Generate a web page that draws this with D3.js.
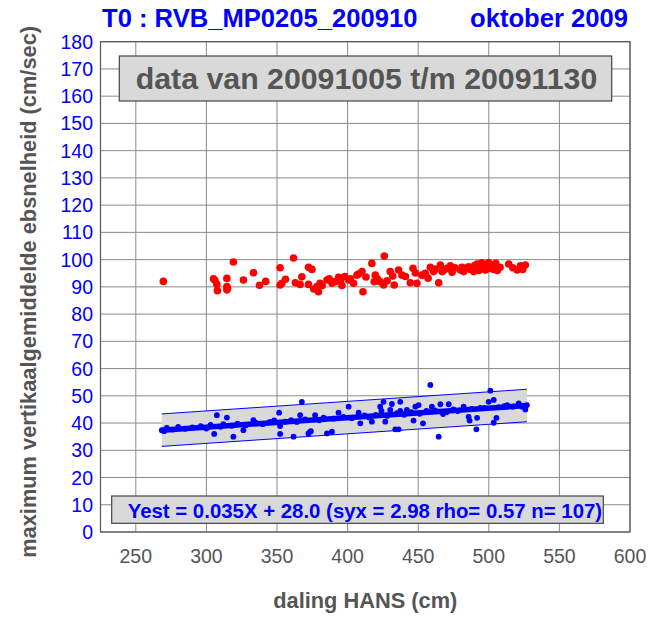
<!DOCTYPE html>
<html>
<head>
<meta charset="utf-8">
<script src="https://cdn.jsdelivr.net/npm/d3@7"></script>
<style>
  html, body { margin: 0; padding: 0; background: #fff; }
  svg { display: block; font-family: "Liberation Sans", Arial, sans-serif; }
</style>
</head>
<body>
<svg id="chart" width="650" height="618"></svg>
<script>
// Titles and labels
const titleLeft = "T0 : RVB_MP0205_200910";
const titleRight = "oktober 2009";
const periodLabel = "data van 20091005 t/m 20091130";
const xTitle = "daling HANS (cm)";
const yTitle = "maximum vertikaalgemiddelde ebsnelheid (cm/sec)";

// Axis ticks
const xTicks = [250, 300, 350, 400, 450, 500, 550, 600];
const yTicks = [0, 10, 20, 30, 40, 50, 60, 70, 80, 90, 100, 110, 120, 130, 140, 150, 160, 170, 180];

// Regression statistics
const slope = 0.035;
const intercept = 28.0;
const syx = 2.98;
const rho = 0.57;
const nObs = 107;

// Maximum velocity (red) : [daling, snelheid]
const redPoints = [
  [269.5,92.0],[305,93.0],[307.4,90.9],[307.8,88.6],[314.5,93.1],[314.5,90.1],[314.5,88.9],[319.1,99.1],
  [326.2,92.5],[333.3,95.2],[337.6,90.6],[352.2,97.0],[352.2,90.7],[353.4,91.3],[361.7,100.6],[367.6,93.7],
  [366.4,90.9],[372.3,97.2],[374.7,96.4],[372.3,90.9],[378.3,90.1],[379.4,88.2],[380.5,91.3],[385.4,92.5],
  [389,91.3],[391.3,91.9],[393.6,93.5],[400.7,92.5],[404.2,91.3],[406.6,94.3],[410.2,95.6],[410.9,88.2],
  [417.2,98.6],[419.6,94.3],[418.9,91.9],[423.1,91.9],[426,101.3],[425.5,90.7],[430.2,95.6],[433,90.7],
  [436.1,96.2],[438.5,94.3],[444.4,91.5],[446.3,96.8],[449.1,91.3],[448,95.1],[452.7,94.3],[458.6,97.2],
  [460.9,95.6],[464.5,91.5],[465.7,98.0],[466.9,95.6],[470.4,96.8],[472.8,97.7],[479.8,96.2],[482.2,95.6],
  [485.7,97.4],[489.3,95.6],[491.7,98.4],[494,97.4],[497.6,96.2],[499.9,98.9],[502.3,98.0],[503.5,96.4],
  [504.6,97.4],[514.1,98.4],[520,96.2],[522.4,97.7],[525.9,98.0],
  [306,92.4],[315,89.5],[342,92.0],[356,92.8],[363,91.5],[376,89.2],[382,90.5],[387,93.0],[395,92.2],
  [398,93.8],[402,93.0],[408,94.8],[413,93.6],[421,93.0],[428,92.2],[432,94.0],[441,93.8],[455,95.0],
  [457,93.2],[462,96.5],[468,96.0],[474,95.4],[476,97.0],[481,97.2],[484,96.8],[487,96.4],[490,97.8],
  [493,96.0],[495,98.8],[498,97.4],[500,96.8],[501,97.8],[505,98.6],[506,96.0],[508,97.2],[517,97.0],
  [524,96.4],[396,90.5]
];

// Vertically averaged velocity (blue) : [daling, snelheid]
const bluePoints = [
  [268.4,37.4],[307.4,42.9],[314.5,42.0],[305.5,36.0],[319.1,35.0],[326.2,37.4],[333.3,41.1],[351.5,43.8],
  [352.2,38.9],[352.2,36.0],[361.7,35.0],[366.4,42.9],[367.6,47.8],[372.3,36.2],[374,37.0],[377,42.9],
  [373.5,36.8],[385.4,36.2],[388.9,36.8],[393.6,43.8],[400.7,46.0],[407.8,43.8],[409,39.9],[417.2,40.5],
  [423.1,46.0],[424,44.5],[425.5,47.8],[426.7,40.5],[430.2,44.8],[431.4,47.0],[433.8,37.7],[436.1,37.7],
  [437.3,47.8],[437.3,44.5],[442,44.8],[446.7,40.9],[448,46.0],[450.3,46.6],[453.4,39.9],[455.8,44.5],
  [458.6,54.0],[459.7,46.0],[464.5,35.0],[465.7,46.9],[467.6,43.3],[471.6,46.9],[482.2,46.0],[485.7,42.3],
  [486.4,40.9],[491.2,37.7],[491.7,41.9],[494,45.6],[499.9,47.8],[501.1,51.9],[503.5,48.5],[503.5,40.1],
  [505.4,41.9],[513.1,46.6],[521.2,47.2],[523.5,46.0],[525.9,45.0],
  [270,37.0],[272,38.2],[276,37.6],[280,38.6],[285,37.9],[290,38.4],[296,38.9],[300,38.0],[303,39.3],
  [310,38.6],[312,39.6],[318,39.0],[322,39.8],[328,39.2],[335,40.1],[340,39.6],[345,40.4],[348,41.0],
  [356,40.5],[360,41.1],[364,40.4],[370,41.3],[380,41.0],[383,42.0],[390,41.6],[397,42.3],[403,41.8],
  [412,42.8],[415,42.1],[420,43.0],[428,42.6],[435,43.6],[440,43.0],[445,44.0],[451,43.4],[457,44.2],
  [462,44.6],[470,44.0],[475,45.0],[478,44.4],[488,45.2],[497,45.6],[507,45.8],[511,46.2],[517,46.0],
  [527,46.6]
];

const BLUE = "#0000ff";
const GREY_TEXT = "#555555";
const BOX_FILL = "#d9d9d9";
const FONT = "'Liberation Sans', Arial, sans-serif";

const svg = d3.select("#chart");
const plot = { left: 100.5, right: 630, top: 41.7, bottom: 532 };

const x = d3.scaleLinear().domain([225, 600]).range([plot.left, plot.right]);
const y = d3.scaleLinear().domain([0, 180]).range([plot.bottom, plot.top]);

// Grid
const grid = svg.append("g").attr("stroke", "#8a8a8a").attr("stroke-width", 1);
grid.selectAll("line.v").data(xTicks).join("line")
  .attr("x1", d => x(d)).attr("x2", d => x(d))
  .attr("y1", plot.top).attr("y2", plot.bottom);
grid.selectAll("line.h").data(yTicks).join("line")
  .attr("x1", plot.left).attr("x2", plot.right)
  .attr("y1", d => y(d)).attr("y2", d => y(d));

// Confidence band (regression ± 2·syx) over the observed range
const xs = bluePoints.map(d => d[0]);
const xMin = d3.min(xs), xMax = d3.max(xs);
const fit = v => slope * v + intercept;
const bandData = [xMin, xMax];

svg.append("path")
  .datum(bandData)
  .attr("fill", BOX_FILL)
  .attr("d", d3.area().x(d => x(d)).y0(d => y(fit(d) - 2 * syx)).y1(d => y(fit(d) + 2 * syx)));

const lineGen = d3.line().x(d => x(d[0])).y(d => y(d[1]));
[2 * syx, -2 * syx].forEach(off => {
  svg.append("path")
    .datum(bandData.map(v => [v, fit(v) + off]))
    .attr("fill", "none").attr("stroke", BLUE).attr("stroke-width", 1)
    .attr("d", lineGen);
});

// Regression line
svg.append("path")
  .datum(bandData.map(v => [v, fit(v)]))
  .attr("fill", "none").attr("stroke", BLUE).attr("stroke-width", 5.5)
  .attr("d", lineGen);

// Points
svg.append("g").selectAll("circle").data(redPoints).join("circle")
  .attr("cx", d => x(d[0])).attr("cy", d => y(d[1])).attr("r", 3.8)
  .attr("fill", "#ff0000");
svg.append("g").selectAll("circle").data(bluePoints).join("circle")
  .attr("cx", d => x(d[0])).attr("cy", d => y(d[1])).attr("r", 2.9)
  .attr("fill", BLUE);

// Plot frame
svg.append("rect")
  .attr("x", plot.left).attr("y", plot.top)
  .attr("width", plot.right - plot.left).attr("height", plot.bottom - plot.top)
  .attr("fill", "none").attr("stroke", "#555").attr("stroke-width", 1.2);

// Tick labels
svg.append("g").selectAll("text").data(yTicks).join("text")
  .attr("x", 93).attr("y", d => y(d)).attr("dy", "0.36em")
  .attr("text-anchor", "end").attr("fill", BLUE)
  .style("font-size", "19.5px").style("font-family", FONT)
  .text(d => d);
svg.append("g").selectAll("text").data(xTicks).join("text")
  .attr("x", d => x(d)).attr("y", 563)
  .attr("text-anchor", "middle").attr("fill", GREY_TEXT)
  .style("font-size", "19.5px").style("font-family", FONT)
  .text(d => d);

// Axis titles
svg.append("text")
  .attr("x", (plot.left + plot.right) / 2).attr("y", 608)
  .attr("text-anchor", "middle").attr("fill", GREY_TEXT)
  .style("font-size", "21.8px").style("font-weight", "bold").style("font-family", FONT)
  .text(xTitle);
svg.append("text")
  .attr("transform", `translate(36,${(plot.top + plot.bottom) / 2 + 5}) rotate(-90)`)
  .attr("text-anchor", "middle").attr("fill", GREY_TEXT)
  .style("font-size", "21.8px").style("font-weight", "bold").style("font-family", FONT)
  .text(yTitle);

// Header
svg.append("text")
  .attr("x", 102).attr("y", 27).attr("fill", BLUE)
  .style("font-size", "25.6px").style("font-weight", "bold").style("font-family", FONT)
  .text(titleLeft);
svg.append("text")
  .attr("x", 628).attr("y", 27).attr("text-anchor", "end").attr("fill", BLUE)
  .style("font-size", "25.6px").style("font-weight", "bold").style("font-family", FONT)
  .text(titleRight);

// Period box
svg.append("rect")
  .attr("x", 119.3).attr("y", 56).attr("width", 611.7 - 119.3).attr("height", 45)
  .attr("fill", BOX_FILL).attr("stroke", "#444").attr("stroke-width", 1.2);
svg.append("text")
  .attr("x", (119.3 + 611.7) / 2 + 1).attr("y", 89)
  .attr("text-anchor", "middle").attr("fill", GREY_TEXT)
  .style("font-size", "30.3px").style("font-weight", "bold").style("font-family", FONT)
  .text(periodLabel);

// Regression summary box
const summary = `Yest = ${slope.toFixed(3)}X + ${intercept.toFixed(1)} (syx = ${syx.toFixed(2)} rho= ${rho.toFixed(2)} n= ${nObs})`;
svg.append("rect")
  .attr("x", 111.7).attr("y", 496).attr("width", 603.3 - 111.7).attr("height", 27.3)
  .attr("fill", BOX_FILL).attr("stroke", "#444").attr("stroke-width", 1.2);
svg.append("text")
  .attr("x", 127.7).attr("y", 517.7).attr("fill", BLUE)
  .style("font-size", "20.4px").style("font-weight", "bold").style("font-family", FONT)
  .text(summary);
</script>
</body>
</html>
